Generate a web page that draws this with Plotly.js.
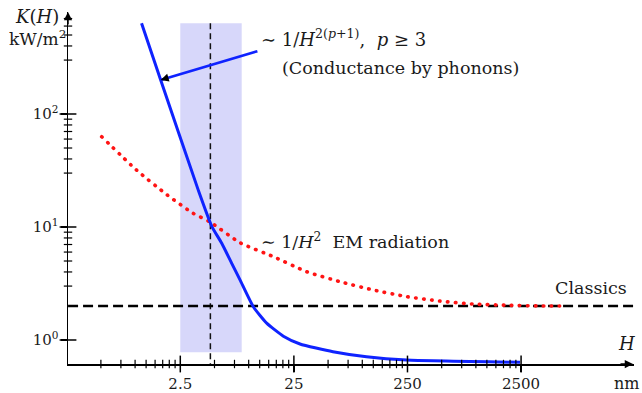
<!DOCTYPE html>
<html><head><meta charset="utf-8">
<script src="https://cdn.plot.ly/plotly-3.0.1.min.js"></script>
<style>
html,body{margin:0;padding:0;background:#fff}
#chart{width:642px;height:393px}
</style></head><body><div id="chart"></div>
<script>
// ---- data ----
// blue: conductance by phonons
const blueH = [1.14, 1.68, 3.60, 4.72, 5.79, 7.09, 8.39, 10.98, 14.4, 20.2, 28.3, 55.2, 109, 246, 2445];
const blueK = [635, 200, 21.2, 10.2, 7.17, 4.77, 3.40, 1.97, 1.41, 1.08, 0.922, 0.788, 0.711, 0.665, 0.635];
// red dotted: EM radiation
const redH = [0.508, 1.03, 1.92, 3.25, 4.56, 8.39, 16.5, 32.4, 63.7, 125, 246, 483, 948, 1867, 3668, 6300];
const redK = [63.0, 31.9, 19.2, 13.2, 11.1, 7.26, 5.46, 4.02, 3.28, 2.77, 2.42, 2.21, 2.08, 2.03, 2.00, 2.00];
// classics dashed level
const classicsH = [0.257, 24700];
const classicsK = [2, 2];
// critical distance (vertical dashed)
const critH = [4.6, 4.6];
const critK = [635, 0.613];
// shaded band
const bandH = [2.5, 8.68];
const bandK = [0.778, 635];
// arrow (tip, tail)
const arrowTip = [1.68, 200];
const arrowTail = [12.3, 363];
// ticks
const xTickVals = [2.5, 25, 250, 2500];
const xTickText = ['2.5', '25', '250', '2500'];
const yTickVals = [1, 10, 100];
const yTickText = ['10<sup>0</sup>', '10<sup>1</sup>', '10<sup>2</sup>'];

const xMinor = [];
[0.25, 2.5, 25, 250].forEach(b => { for (let k = 2; k <= 9; k++) xMinor.push(b * k); });
const yMinor = [];
[1, 10, 100].forEach(b => { for (let k = 3; k <= 9; k++) { if (b * k <= 700) yMinor.push(b * k); } });

const serif = 'DejaVu Serif';
const ink = '#1a1a1a';
const xr = [-0.5906, 4.392];
const yr = [-0.2124, 2.9026];
const xAxisAt = Math.pow(10, yr[0] + 1e-5);   // y value where the x axis lies
const yAxisAt = Math.pow(10, xr[0] + 1e-5);   // x value where the y axis lies
const L = 68, R = 8, T = 12, B = 29, W = 642, Hh = 393;
const pw = W - L - R, ph = Hh - T - B;
const px = v => (v - L) / pw;
const py = v => ((Hh - B) - v) / ph;

const tickMark = (sym, size, w) => ({ symbol: sym, size: size, color: '#000', line: { color: '#000', width: w } });

const traces = [
  { x: [bandH[0], bandH[1], bandH[1], bandH[0], bandH[0]],
    y: [bandK[0], bandK[0], bandK[1], bandK[1], bandK[0]],
    mode: 'lines', fill: 'toself', fillcolor: 'rgb(215,215,250)',
    line: { width: 0, color: 'rgba(0,0,0,0)' }, hoverinfo: 'skip' },
  { x: critH, y: critK, mode: 'lines', line: { color: '#111', width: 1.5, dash: '6px,4px' } },
  { x: classicsH, y: classicsK, mode: 'lines', line: { color: '#000', width: 2.5, dash: '10px,5px' } },
  { x: redH, y: redK, mode: 'lines', line: { color: 'rgb(255,20,20)', width: 3.6, dash: '0.5px,7.5px', shape: 'spline', smoothing: 0.6 } },
  { x: blueH, y: blueK, mode: 'lines', line: { color: 'rgb(15,35,255)', width: 3, shape: 'spline', smoothing: 0.5 } },
  // tick marks crossing the axes
  { x: xTickVals, y: xTickVals.map(() => xAxisAt), mode: 'markers', cliponaxis: false, marker: tickMark('line-ns', 12, 1.5) },
  { x: xMinor, y: xMinor.map(() => xAxisAt), mode: 'markers', cliponaxis: false, marker: tickMark('line-ns', 6, 1.2) },
  { x: yTickVals.map(() => yAxisAt), y: yTickVals, mode: 'markers', cliponaxis: false, marker: tickMark('line-ew', 12, 1.5) },
  { x: yMinor.map(() => yAxisAt), y: yMinor, mode: 'markers', cliponaxis: false, marker: tickMark('line-ew', 6, 1.2) }
];

const tickFont = { family: serif, size: 15, color: ink };
const axBase = { type: 'log', showgrid: false, zeroline: false, fixedrange: true };

const layout = {
  width: W, height: Hh, margin: { l: L, r: R, t: T, b: B, pad: 0 },
  paper_bgcolor: '#fff', plot_bgcolor: '#fff', showlegend: false,
  xaxis: Object.assign({}, axBase, { range: xr, showline: true, linecolor: '#000', linewidth: 1.5,
    ticks: 'outside', ticklen: 6, tickwidth: 1.5, tickcolor: '#000', tickmode: 'array',
    tickvals: xTickVals, ticktext: xTickText, tickfont: tickFont, ticklabelstandoff: -1 }),
  yaxis: Object.assign({}, axBase, { range: yr, showline: true, linecolor: '#000', linewidth: 1.5,
    ticks: 'outside', ticklen: 6, tickwidth: 1.5, tickcolor: '#000', tickmode: 'array',
    tickvals: yTickVals, ticktext: yTickText, tickfont: tickFont, ticklabelstandoff: -1 }),
  annotations: [
    // axis arrowheads
    { xref: 'paper', yref: 'paper', x: px(633), y: 0, ax: -14, ay: 0, text: '', showarrow: true,
      arrowhead: 2, arrowsize: 1.1, arrowwidth: 1.5, arrowcolor: '#000' },
    { xref: 'paper', yref: 'paper', x: 0, y: 1, ax: 0, ay: 14, text: '', showarrow: true,
      arrowhead: 2, arrowsize: 1.1, arrowwidth: 1.5, arrowcolor: '#000' },
    // pointer arrow: blue shaft + dark head
    { xref: 'x', yref: 'y', axref: 'x', ayref: 'y',
      x: Math.log10(arrowTip[0]), y: Math.log10(arrowTip[1]),
      ax: Math.log10(arrowTail[0]), ay: Math.log10(arrowTail[1]),
      text: '', showarrow: true, arrowhead: 0, arrowwidth: 2.6, arrowcolor: 'rgb(15,35,255)' },
    { xref: 'x', yref: 'y', x: Math.log10(arrowTip[0]), y: Math.log10(arrowTip[1]),
      ax: 8, ay: -2.4, text: '', showarrow: true, arrowhead: 2, arrowsize: 1, arrowwidth: 1.6, arrowcolor: '#000' },
    // labels
    { xref: 'paper', yref: 'paper', x: px(37), y: py(17), xanchor: 'center', yanchor: 'middle', showarrow: false,
      text: '<i>K</i>(<i>H</i>)', font: { family: serif, size: 18, color: ink } },
    { xref: 'paper', yref: 'paper', x: px(37), y: py(38), xanchor: 'center', yanchor: 'middle', showarrow: false,
      text: 'kW/m<sup>2</sup>', font: { family: serif, size: 17, color: ink } },
    { xref: 'paper', yref: 'paper', x: px(626), y: py(343), xanchor: 'center', yanchor: 'middle', showarrow: false,
      text: '<i>H</i>', font: { family: serif, size: 18, color: ink } },
    { xref: 'paper', yref: 'paper', x: px(626), y: py(383), xanchor: 'center', yanchor: 'middle', showarrow: false,
      text: 'nm', font: { family: serif, size: 16, color: ink } },
    { xref: 'paper', yref: 'paper', x: px(259), y: py(38), xanchor: 'left', yanchor: 'middle', showarrow: false,
      text: '∼ 1/<i>H</i><sup>2(<i>p</i>+1)</sup>,  <i>p</i> ≥ 3', font: { family: serif, size: 18, color: ink } },
    { xref: 'paper', yref: 'paper', x: px(280), y: py(68), xanchor: 'left', yanchor: 'middle', showarrow: false,
      text: '(Conductance by phonons)', font: { family: serif, size: 17.5, color: ink } },
    { xref: 'paper', yref: 'paper', x: px(259), y: py(241), xanchor: 'left', yanchor: 'middle', showarrow: false,
      text: '∼ 1/<i>H</i><sup>2</sup>  EM radiation', font: { family: serif, size: 17.5, color: ink } },
    { xref: 'paper', yref: 'paper', x: px(553), y: py(288), xanchor: 'left', yanchor: 'middle', showarrow: false,
      text: 'Classics', font: { family: serif, size: 17.5, color: ink } }
  ]
};

Plotly.newPlot('chart', traces, layout, { staticPlot: true, displayModeBar: false }).then(() => {
  const tr = document.querySelectorAll('.scatterlayer .trace');
  if (tr[3]) { const p = tr[3].querySelector('.js-line'); if (p) p.style.strokeLinecap = 'round'; }
});
</script></body></html>
